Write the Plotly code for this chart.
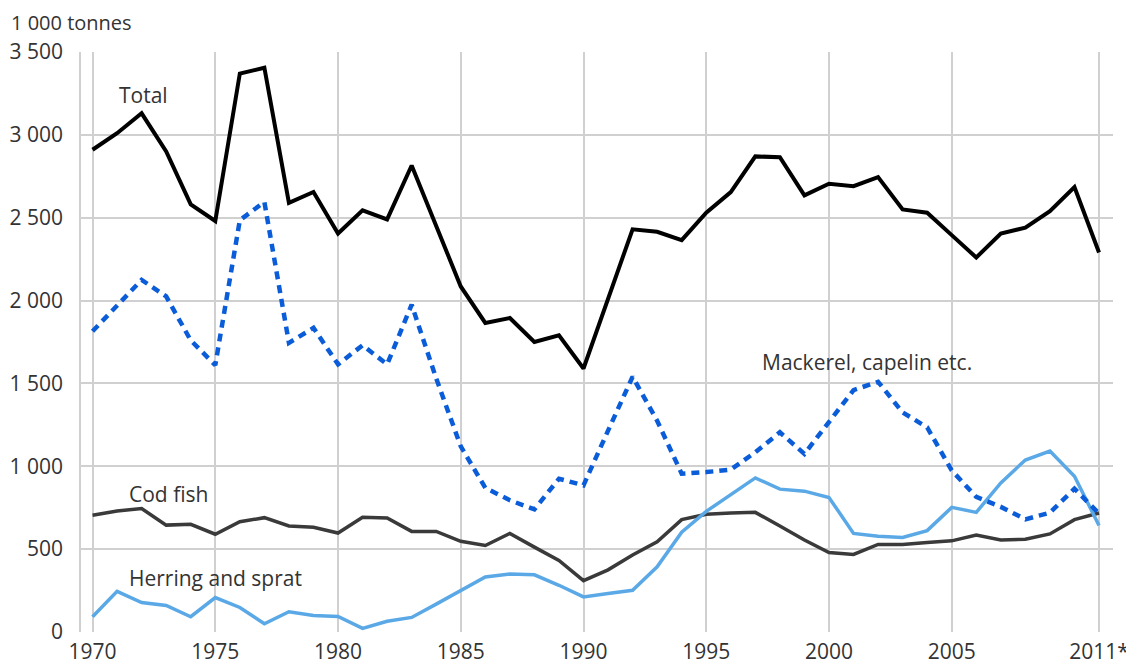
import plotly.graph_objects as go

years = list(range(1970, 2012))

total = [2910, 3010, 3130, 2900, 2580, 2480, 3370, 3405, 2590, 2655, 2405,
         2545, 2490, 2815, 2450, 2085, 1865, 1895, 1750, 1790, 1590, 2010,
         2430, 2415, 2365, 2530, 2655, 2870, 2865, 2635, 2705, 2690, 2745,
         2550, 2530, 2395, 2260, 2405, 2440, 2540, 2685, 2290]

mackerel = [1815, 1970, 2125, 2025, 1760, 1610, 2485, 2595, 1745, 1835, 1615,
            1730, 1615, 1975, 1530, 1120, 870, 795, 740, 925, 885, 1215,
            1540, 1275, 955, 965, 980, 1085, 1205, 1075, 1265, 1460, 1510,
            1325, 1235, 975, 815, 755, 680, 720, 865, 715]

cod = [705, 730, 745, 645, 650, 590, 665, 690, 640, 632, 597,
       692, 688, 607, 607, 547, 522, 595, 512, 432, 310, 375,
       465, 545, 678, 710, 718, 722, 640, 555, 480, 468, 528,
       528, 540, 550, 585, 555, 560, 592, 678, 718]

herring = [92, 245, 178, 160, 92, 208, 148, 50, 122, 100, 94,
           22, 65, 88, 168, 252, 332, 350, 345, 282, 212, 232,
           252, 393, 602, 728, 827, 930, 862, 850, 812, 595, 578,
           570, 612, 752, 722, 900, 1038, 1092, 940, 643]

x_tickvals = [1970, 1975, 1980, 1985, 1990, 1995, 2000, 2005, 2011]
x_ticktext = ["1970", "1975", "1980", "1985", "1990", "1995", "2000", "2005", "2011*"]
y_tickvals = [0, 500, 1000, 1500, 2000, 2500, 3000, 3500]
y_ticktext = ["0", "500", "1 000", "1 500", "2 000", "2 500", "3 000", "3 500"]

FONT = "Open Sans"
TXT = "#333333"
GRID = "#d0d0d0"
FS = 21
W, H = 1126, 656

fig = go.Figure()
fig.add_trace(go.Scatter(x=years, y=cod, mode="lines", name="Cod fish",
                         line=dict(color="#3a3a3a", width=3.5)))
fig.add_trace(go.Scatter(x=years, y=herring, mode="lines", name="Herring and sprat",
                         line=dict(color="#5aa9e6", width=3.5)))
fig.add_trace(go.Scatter(x=years, y=mackerel, mode="lines", name="Mackerel, capelin etc.",
                         line=dict(color="#0a5cd8", width=4.5, dash="8px,6px")))
fig.add_trace(go.Scatter(x=years, y=total, mode="lines", name="Total",
                         line=dict(color="#000000", width=4)))

labels = [
    ("Total", 1971.0, 3240),
    ("Cod fish", 1971.4, 833),
    ("Herring and sprat", 1971.4, 328),
    ("Mackerel, capelin etc.", 1997.2, 1630),
]
for txt, xx, yy in labels:
    fig.add_annotation(x=xx, y=yy, text=txt, showarrow=False, xanchor="left",
                       yanchor="middle", font=dict(family=FONT, size=FS, color=TXT))

fig.update_layout(
    width=W, height=H,
    margin=dict(l=73, r=21, t=44, b=32),
    paper_bgcolor="white", plot_bgcolor="white",
    showlegend=False,
    font=dict(family=FONT, size=FS, color=TXT),
    title=dict(text="1 000 tonnes", xref="container", yref="container",
               x=3 / W, xanchor="left", y=1 - 15 / H, yanchor="middle",
               font=dict(family=FONT, size=20, color=TXT)),
    xaxis=dict(range=[1969.53, 2011.57], tickvals=x_tickvals, ticktext=x_ticktext,
               showgrid=True, gridcolor=GRID, gridwidth=1.5, zeroline=False,
               showline=False, ticks="", ticklabelstandoff=5, automargin=False),
    yaxis=dict(range=[0, 3500], tickvals=y_tickvals, ticktext=y_ticktext,
               showgrid=True, gridcolor=GRID, gridwidth=1.5, zeroline=False,
               showline=True, linecolor=GRID, linewidth=1.5, ticks="",
               ticklabelstandoff=12, automargin=False),
)

fig.write_html("out.html")
